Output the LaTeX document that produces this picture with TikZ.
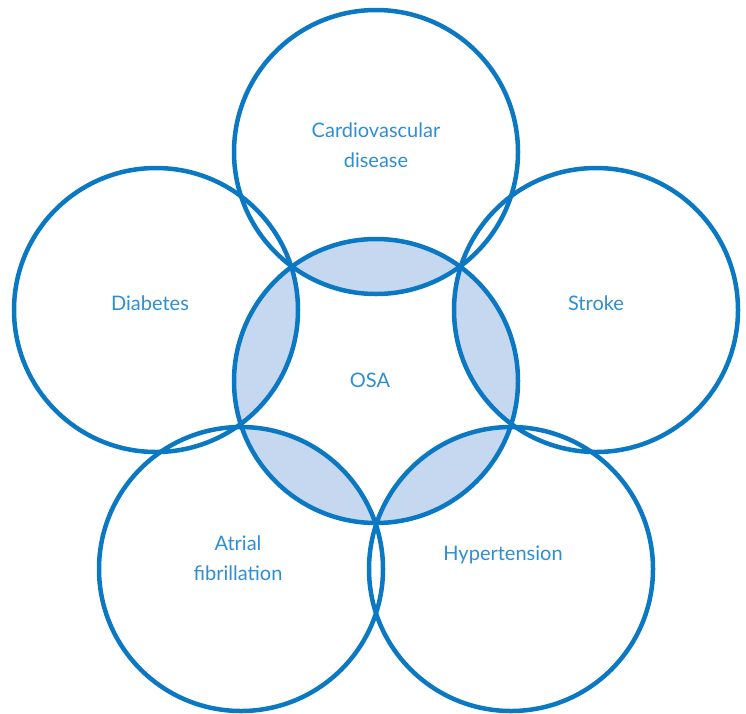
\documentclass[tikz,border=0pt]{standalone}
\usepackage{fontspec}
\setmainfont{Lato}
\definecolor{ring}{HTML}{0A78C2}
\definecolor{lens}{HTML}{C5D8EF}
\definecolor{txt}{HTML}{2E8ED2}
\begin{document}
\begin{tikzpicture}[x=1pt,y=-1pt,
  ringc/.style={draw=ring,line width=4.5pt},
  lbl/.style={text=txt,font=\fontsize{20}{30}\selectfont,align=center}]
\useasboundingbox (0,0) rectangle (746,713);
\def\R{142}
\coordinate (osa) at (376,381);
\coordinate (cv) at (376,152);
\coordinate (db) at (156,310);
\coordinate (st) at (596,310);
\coordinate (af) at (241,569);
\coordinate (ht) at (511,569);
\begin{scope}
\clip (osa) circle (\R);
\foreach \c in {cv,db,st,af,ht} \fill[lens] (\c) circle (\R);
\end{scope}
\foreach \c in {osa,cv,db,st,af,ht} \draw[ringc] (\c) circle (\R);
\node[lbl] (tcv) at (376,145) {Cardiovascular\\disease};
\node[lbl] (tdb) at (150,303) {Diabetes};
\node[lbl] (tst) at (596,303) {Stroke};
\node[lbl] (tosa) at (370,380) {OSA};
\node[lbl] (taf) at (238,558) {Atrial\\fibrillation};
\node[lbl] (tht) at (503,555) {Hypertension};
\end{tikzpicture}
\end{document}
